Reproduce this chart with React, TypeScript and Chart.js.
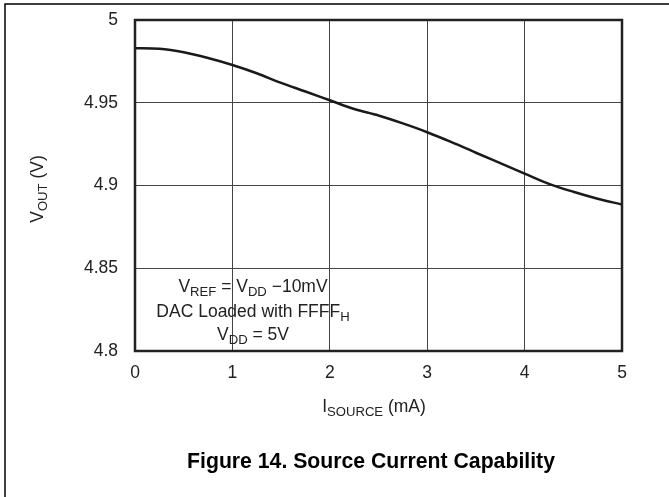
import React, { useEffect, useRef } from "react";
import { Chart, registerables } from "chart.js";

Chart.register(...registerables);

// I_SOURCE (mA)
const currentMA = [0, 0.25, 0.5, 0.75, 1, 1.25, 1.5, 1.75, 2, 2.25, 2.5, 2.75, 3, 3.25, 3.5, 3.75, 4, 4.25, 4.5, 4.75, 5];
// V_OUT (V)
const voutV = [4.983, 4.9826, 4.9805, 4.977, 4.9728, 4.9678, 4.962, 4.9568, 4.9515, 4.9462, 4.9423, 4.9375, 4.9322, 4.9262, 4.9198, 4.9135, 4.9072, 4.901, 4.8962, 4.892, 4.8885];
const xTickValues = [0, 1, 2, 3, 4, 5];
const yTickValues = [4.8, 4.85, 4.9, 4.95, 5];
const xTickLabels = ["0", "1", "2", "3", "4", "5"];
const yTickLabels = ["4.8", "4.85", "4.9", "4.95", "5"];

const FONT = "'Liberation Sans', Arial, Helvetica, sans-serif";
const TITLE_FONT = "'Liberation Sans Narrow', 'Arial Narrow', 'Liberation Sans', Arial, sans-serif";
const FS = 17.5;

type Seg = { t: string; sub?: boolean };

function richWidth(ctx: CanvasRenderingContext2D, segs: Seg[], size: number) {
  let w = 0;
  for (const s of segs) {
    ctx.font = `${s.sub ? size * 0.75 : size}px ${FONT}`;
    w += ctx.measureText(s.t).width;
  }
  return w;
}

function drawRich(ctx: CanvasRenderingContext2D, segs: Seg[], cx: number, cy: number, size: number) {
  ctx.save();
  ctx.translate(cx, cy);
  const w = richWidth(ctx, segs, size);
  let x = -w / 2;
  ctx.textBaseline = "middle";
  ctx.textAlign = "left";
  for (const s of segs) {
    const fs = s.sub ? size * 0.75 : size;
    ctx.font = `${fs}px ${FONT}`;
    ctx.fillText(s.t, x, s.sub ? size * 0.32 : 0);
    x += ctx.measureText(s.t).width;
  }
  ctx.restore();
}

function drawText(ctx: CanvasRenderingContext2D, t: string, x: number, y: number, font: string, align: CanvasTextAlign) {
  ctx.font = font;
  ctx.textAlign = align;
  ctx.textBaseline = "middle";
  ctx.fillText(t, x, y);
}

const overlay = {
  id: "overlay",
  afterDraw(chart: any) {
    const ctx: CanvasRenderingContext2D = chart.ctx;
    const a = chart.chartArea;
    const xs = chart.scales.x;
    const ys = chart.scales.y;
    ctx.save();
    // outer frame
    ctx.strokeStyle = "#000";
    ctx.lineWidth = 1.5;
    ctx.strokeRect(5, 4, 900, 900);
    // plot border
    ctx.strokeStyle = "#222";
    ctx.lineWidth = 2.5;
    ctx.strokeRect(a.left, a.top, a.right - a.left, a.bottom - a.top);

    ctx.fillStyle = "#222";
    // tick labels
    const tf = `${FS}px ${FONT}`;
    xTickValues.forEach((v, i) => drawText(ctx, xTickLabels[i], xs.getPixelForValue(v), 373, tf, "center"));
    yTickValues.forEach((v, i) => drawText(ctx, yTickLabels[i], 118, ys.getPixelForValue(v), tf, "right"));

    // x axis title
    drawRich(ctx, [{ t: "I" }, { t: "SOURCE", sub: true }, { t: " (mA)" }], 374, 407, FS);
    // y axis title
    ctx.save();
    ctx.translate(38, 189);
    ctx.rotate(-Math.PI / 2);
    drawRich(ctx, [{ t: "V" }, { t: "OUT", sub: true }, { t: " (V)" }], 0, 0, FS);
    ctx.restore();

    // annotation
    const ax = 253;
    drawRich(ctx, [{ t: "V" }, { t: "REF", sub: true }, { t: " = V" }, { t: "DD", sub: true }, { t: " \u221210mV" }], ax, 287, FS);
    drawRich(ctx, [{ t: "DAC Loaded with FFFF" }, { t: "H", sub: true }], ax, 312, FS);
    drawRich(ctx, [{ t: "V" }, { t: "DD", sub: true }, { t: " = 5V" }], ax, 335, FS);

    // figure title, sized to span its measured width
    const title = "Figure 14. Source Current Capability";
    ctx.font = `bold 20px ${TITLE_FONT}`;
    const w20 = ctx.measureText(title).width;
    const tsize = Math.min(26, (20 * 368) / w20);
    ctx.fillStyle = "#000";
    drawText(ctx, title, 371, 462, `bold ${tsize}px ${TITLE_FONT}`, "center");
    ctx.restore();
  },
};

export default function App() {
  const ref = useRef<HTMLCanvasElement>(null);
  useEffect(() => {
    if (!ref.current) return;
    const chart = new Chart(ref.current, {
      type: "line",
      data: {
        datasets: [
          {
            data: currentMA.map((x, i) => ({ x, y: voutV[i] })),
            borderColor: "#1a1a1a",
            borderWidth: 2.5,
            pointRadius: 0,
            cubicInterpolationMode: "monotone",
            fill: false,
          },
        ],
      },
      options: {
        responsive: false,
        animation: false,
        events: [],
        layout: { padding: { left: 0, top: 20, right: 47, bottom: 0 } },
        plugins: { legend: { display: false }, tooltip: { enabled: false } },
        scales: {
          x: {
            type: "linear",
            min: 0,
            max: 5,
            afterFit: (s: any) => {
              s.height = 146;
              s.paddingLeft = 0;
              s.paddingRight = 0;
            },
            afterBuildTicks: (s: any) => {
              s.ticks = xTickValues.map((v) => ({ value: v }));
            },
            ticks: { display: false },
            grid: { color: "#444", lineWidth: 1, drawTicks: false },
            border: { display: false },
          },
          y: {
            min: 4.8,
            max: 5,
            afterFit: (s: any) => {
              s.width = 135;
              s.paddingTop = 0;
              s.paddingBottom = 0;
            },
            afterBuildTicks: (s: any) => {
              s.ticks = yTickValues.map((v) => ({ value: v }));
            },
            ticks: { display: false },
            grid: { color: "#444", lineWidth: 1, drawTicks: false },
            border: { display: false },
          },
        },
      },
      plugins: [overlay],
    } as any);
    return () => chart.destroy();
  }, []);
  return (
    <div style={{ position: "fixed", left: 0, top: 0, width: 669, height: 497, background: "#fff" }}>
      <canvas ref={ref} width={669} height={497} style={{ display: "block" }} />
    </div>
  );
}
